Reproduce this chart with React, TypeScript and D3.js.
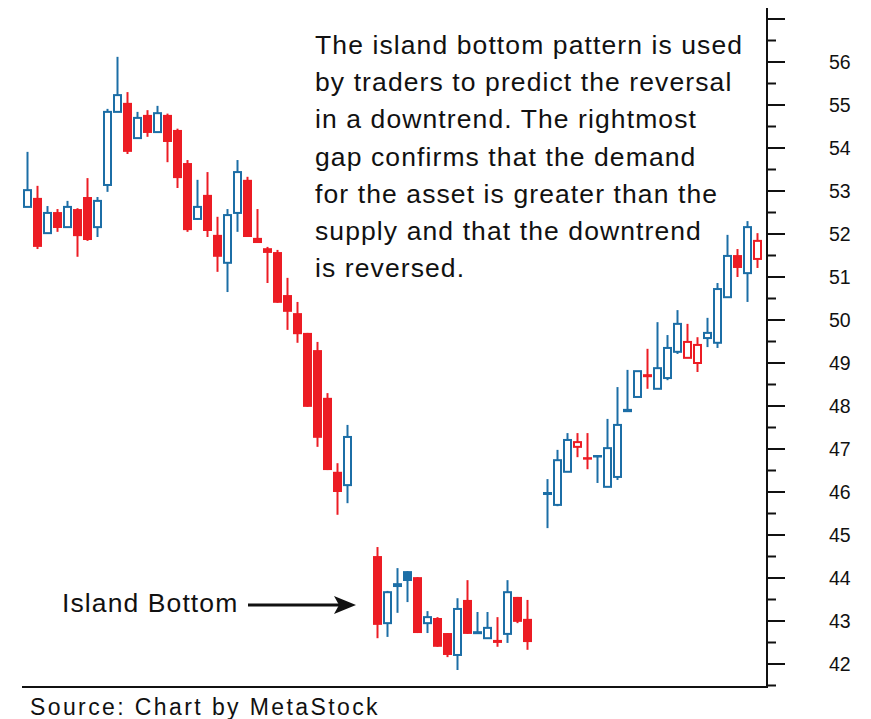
import React from 'react';
import * as d3 from 'd3';

// session index (gaps = price gaps around the island)
const days = [
  0, 1, 2, 3, 4, 5, 6, 7, 8, 9, 10, 11, 12, 13, 14, 15, 16, 17, 18, 19, 20,
  21, 22, 23, 24, 25, 26, 27, 28, 29, 30, 31, 32,
  35, 36, 37, 38, 39, 40, 41, 42, 43, 44, 45, 46, 47, 48, 49, 50,
  52, 53, 54, 55, 56, 57, 58, 59, 60, 61, 62, 63, 64, 65, 66, 67, 68, 69, 70,
  71, 72, 73,
];
const opens = [
  52.63, 52.84, 52.02, 52.51, 52.16, 52.58, 52.86, 52.16, 53.14, 54.84, 55.05,
  54.23, 54.77, 54.37, 54.77, 54.42, 53.65, 52.35, 52.91, 51.98, 51.33, 52.49,
  53.26, 51.91, 51.67, 51.58, 50.58, 50.16, 49.7, 49.3, 48.19, 46.47, 46.16,
  44.51, 42.95, 43.88, 44.16, 44.02, 42.95, 43.07, 42.72, 42.21, 43.49, 42.72,
  42.6, 42.56, 42.7, 43.56, 43.05,
  46.0, 45.7, 46.47, 47.05, 46.81, 46.86, 46.12, 46.35, 47.88, 48.21, 48.74,
  48.4, 48.65, 49.26, 49.12, 49.0, 49.58, 49.47, 50.53, 51.51, 51.09, 51.42,
];
const highs = [
  53.91, 53.12, 52.65, 52.58, 52.77, 52.6, 53.3, 52.86, 54.91, 56.12, 55.3,
  54.84, 54.88, 54.98, 54.8, 54.45, 53.72, 53.26, 53.44, 52.4, 52.58, 53.72,
  53.33, 52.58, 51.7, 51.63, 50.98, 50.42, 49.7, 49.49, 48.3, 46.67, 47.56,
  44.72, 43.7, 44.23, 44.16, 44.02, 43.23, 43.09, 42.72, 43.53, 43.95, 43.21,
  43.21, 43.09, 43.95, 43.56, 43.49,
  46.3, 46.98, 47.37, 47.37, 47.37, 46.86, 47.7, 48.44, 48.84, 48.81, 49.33,
  49.95, 49.65, 50.23, 49.91, 49.6, 50.05, 50.86, 51.98, 51.65, 52.3, 52.02,
];
const lows = [
  52.63, 51.65, 52.0, 52.05, 52.16, 51.47, 51.84, 51.93, 52.98, 54.84, 53.86,
  54.23, 54.26, 54.37, 53.67, 53.07, 52.05, 52.33, 51.93, 51.12, 50.65, 52.05,
  51.93, 51.79, 50.86, 50.4, 49.77, 49.47, 47.98, 47.05, 46.51, 45.47, 45.74,
  42.6, 42.63, 43.19, 43.44, 42.72, 42.72, 42.4, 42.16, 41.86, 42.7, 42.72,
  42.6, 42.4, 42.49, 42.95, 42.33,
  45.16, 45.67, 46.47, 46.81, 46.53, 46.21, 46.12, 46.28, 47.86, 48.21, 48.4,
  48.4, 48.6, 49.21, 49.12, 48.79, 49.37, 49.35, 50.53, 51.0, 50.42, 51.21,
];
const closes = [
  53.02, 51.7, 52.49, 52.14, 52.63, 51.95, 51.86, 52.77, 54.84, 55.23, 53.91,
  54.7, 54.35, 54.81, 54.14, 53.3, 52.09, 52.63, 52.07, 51.47, 52.44, 53.44,
  51.93, 51.79, 51.56, 50.4, 50.19, 49.67, 47.98, 47.26, 46.51, 46.0, 47.28,
  42.91, 43.67, 43.79, 43.93, 42.72, 43.09, 42.4, 42.21, 43.28, 42.7, 42.74,
  42.84, 42.49, 43.67, 42.98, 42.51,
  45.93, 46.74, 47.21, 47.16, 46.79, 46.81, 47.02, 47.56, 47.91, 48.81, 48.67,
  48.88, 49.35, 49.91, 49.49, 49.42, 49.7, 50.72, 51.49, 51.21, 52.16, 51.84,
];

const priceTicks = [42, 43, 44, 45, 46, 47, 48, 49, 50, 51, 52, 53, 54, 55, 56];

const noteLines = [
  'The island bottom pattern is used',
  'by traders to predict the reversal',
  'in a downtrend. The rightmost',
  'gap confirms that the demand',
  'for the asset is greater than the',
  'supply and that the downtrend',
  'is reversed.',
];

const W = 871;
const H = 719;
const BLUE = '#1c6ea6';
const RED = '#ec1c24';
const INK = '#111';

export default function App() {
  const x = d3.scaleLinear().domain([0, 73]).range([27.5, 757.5]);
  const y = d3.scaleLinear().domain([42, 56]).range([664, 62]);

  const axisX = 767;
  const axisTop = 8;
  const axisBottom = 687;
  const bodyW = 9;

  const candles = days.map((d, i) => {
    const o = opens[i];
    const c = closes[i];
    const prev = i > 0 ? closes[i - 1] : -Infinity;
    return {
      d,
      o,
      c,
      h: highs[i],
      l: lows[i],
      color: c >= prev ? BLUE : RED,
      hollow: c > o,
    };
  });

  const minorTicks = d3.range(41.5, 57.5, 1);
  const majorTicks = [...priceTicks, 57];

  return (
    <svg
      width={W}
      height={H}
      style={{ position: 'absolute', left: 0, top: 0, background: '#fff' }}
      fontFamily="'Liberation Sans', Arial, sans-serif"
    >
      <rect width={W} height={H} fill="#fff" />

      {/* candles */}
      {candles.map((k, i) => {
        const cx = x(k.d);
        const top = y(Math.max(k.o, k.c));
        const bot = y(Math.min(k.o, k.c));
        if (k.hollow) {
          const hgt = Math.max(bot - top, 1);
          return (
            <g key={i} stroke={k.color} strokeWidth={2} fill="none">
              <line x1={cx} x2={cx} y1={y(k.h)} y2={top} />
              <line x1={cx} x2={cx} y1={top + hgt} y2={y(k.l)} />
              <rect x={cx - (bodyW - 2) / 2} y={top} width={bodyW - 2} height={hgt} fill="#fff" />
            </g>
          );
        }
        const hgt = Math.max(bot - top, 2.5);
        return (
          <g key={i}>
            <line x1={cx} x2={cx} y1={y(k.h)} y2={y(k.l)} stroke={k.color} strokeWidth={2} />
            <rect x={cx - bodyW / 2} y={top} width={bodyW} height={hgt} fill={k.color} />
          </g>
        );
      })}

      {/* price axis */}
      <line x1={axisX} x2={axisX} y1={axisTop} y2={axisBottom} stroke={INK} strokeWidth={2} />
      <line x1={22} x2={axisX + 1} y1={axisBottom} y2={axisBottom} stroke={INK} strokeWidth={2} />
      {majorTicks.map((t) => (
        <line key={'M' + t} x1={axisX} x2={axisX + 18} y1={y(t)} y2={y(t)} stroke={INK} strokeWidth={2} />
      ))}
      {minorTicks.map((t) => (
        <line key={'m' + t} x1={axisX} x2={axisX + 9} y1={y(t)} y2={y(t)} stroke={INK} strokeWidth={2} />
      ))}
      {priceTicks.map((t) => (
        <text key={'l' + t} x={829} y={y(t)} dy="0.36em" fontSize={19.5} fill={INK}>
          {t}
        </text>
      ))}

      {/* annotation */}
      {noteLines.map((s, i) => (
        <text key={i} x={315} y={54 + i * 37.2} fontSize={26.5} letterSpacing={1.1} fill={INK}>
          {s}
        </text>
      ))}

      <text x={62} y={612} fontSize={26.5} letterSpacing={1.1} fill={INK}>
        Island Bottom
      </text>
      <line x1={248} x2={340} y1={605} y2={605} stroke={INK} strokeWidth={3} />
      <path d="M356,605 L334,596 L339,605 L334,614 Z" fill={INK} />

      <text x={30} y={715} fontSize={23} letterSpacing={2.4} fill={INK}>
        Source: Chart by MetaStock
      </text>
    </svg>
  );
}
